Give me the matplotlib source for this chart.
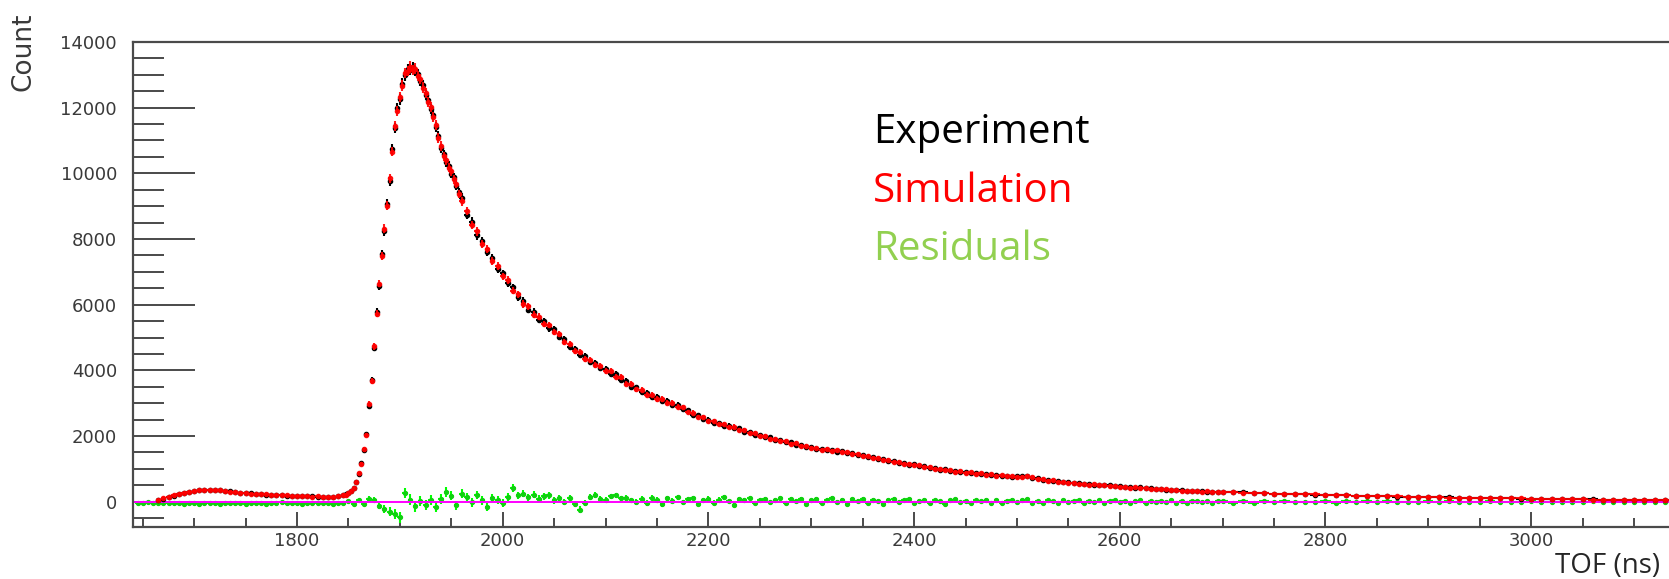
#!/usr/bin/env python3
"""TOF spectrum: experiment vs simulation, with residuals (ROOT-style frame)."""

import numpy as np
import matplotlib
matplotlib.use('Agg')
import matplotlib.pyplot as plt
from matplotlib.ticker import MultipleLocator

# counts, four binning segments (start ns, step ns)
SEGMENTS = [(1665, 5.0), (1845, 2.5), (1960, 5.0), (2700, 10.0)]

EXP_A = [55, 95, 145, 185, 240, 262, 310, 322, 358, 352,
         368, 348, 356, 328, 316, 284, 280, 255, 258, 236,
         234, 214, 215, 196, 200, 180, 186, 170, 176, 160,
         166, 150, 156, 142, 154, 168]
EXP_B = [190, 225, 255, 335, 415, 610, 840, 1180, 1580, 2060,
         2930, 3720, 4680, 5780, 6570, 7530, 8230, 9080, 9760, 10740,
         11380, 11990, 12250, 12730, 12980, 13180, 13160, 13230, 13110, 13020,
         12820, 12680, 12390, 12230, 11970, 11790, 11420, 11130, 10760, 10580,
         10350, 10230, 9990, 9880, 9620, 9430]
EXP_C = [9260, 8740, 8530, 8110, 7950, 7590, 7420, 7080, 6950, 6650,
         6530, 6220, 6110, 5850, 5790, 5540, 5490, 5280, 5250, 5010,
         4960, 4720, 4660, 4470, 4440, 4250, 4230, 4060, 4050, 3890,
         3890, 3710, 3680, 3500, 3480, 3330, 3320, 3180, 3190, 3070,
         3070, 2950, 2950, 2810, 2790, 2650, 2640, 2510, 2500, 2400,
         2400, 2310, 2320, 2230, 2230, 2130, 2130, 2040, 2040, 1960,
         1960, 1880, 1890, 1810, 1810, 1740, 1740, 1670, 1680, 1610,
         1620, 1560, 1580, 1520, 1540, 1480, 1490, 1420, 1430, 1360,
         1370, 1300, 1310, 1240, 1250, 1180, 1190, 1120, 1135, 1085,
         1085, 1035, 1035, 975, 985, 935, 945, 895, 912, 868,
         882, 846, 852, 808, 812, 778, 792, 758, 772, 776,
         792, 728, 712, 660, 665, 630, 630, 592, 598, 566,
         568, 538, 538, 512, 516, 494, 497, 478, 478, 448,
         447, 424, 436, 404, 406, 384, 386, 366, 365, 344,
         344, 326, 330, 314, 319, 305, 309, 296]
EXP_D = [298, 281, 282, 266, 263, 241, 238, 227, 228, 216,
         213, 197, 198, 181, 181, 169, 171, 157, 155, 142,
         143, 132, 133, 122, 123, 112, 113, 102, 105, 95,
         98, 87, 88, 77, 80, 69, 71, 61, 63, 54,
         58, 49, 53, 45]

SIM_A = [48, 104, 138, 194, 228, 276, 296, 336, 344, 366,
         354, 362, 342, 340, 304, 296, 270, 265, 246, 244,
         226, 224, 206, 204, 190, 190, 174, 180, 164, 170,
         154, 160, 144, 150, 146, 162]
SIM_B = [195, 218, 265, 325, 430, 590, 865, 1150, 1620, 2040,
         2980, 3680, 4730, 5720, 6640, 7470, 8320, 9010, 9850, 10660,
         11430, 11910, 12330, 12670, 13060, 13120, 13250, 13150, 13190, 12960,
         12880, 12610, 12450, 12170, 12030, 11710, 11480, 11070, 10840, 10520,
         10410, 10170, 10060, 9820, 9690, 9370]
SIM_C = [9150, 8850, 8430, 8230, 7860, 7700, 7340, 7180, 6860, 6750,
         6430, 6320, 6020, 5950, 5690, 5640, 5410, 5380, 5170, 5110,
         4860, 4800, 4580, 4550, 4360, 4330, 4150, 4140, 3970, 3970,
         3810, 3790, 3600, 3580, 3420, 3410, 3260, 3260, 3130, 3130,
         3010, 3010, 2890, 2870, 2730, 2710, 2580, 2570, 2460, 2460,
         2360, 2370, 2280, 2290, 2190, 2190, 2090, 2080, 2000, 2000,
         1920, 1920, 1850, 1850, 1770, 1780, 1700, 1710, 1640, 1650,
         1580, 1600, 1540, 1560, 1500, 1520, 1450, 1460, 1390, 1400,
         1330, 1340, 1270, 1280, 1210, 1220, 1150, 1160, 1105, 1115,
         1055, 1065, 1005, 1005, 955, 965, 915, 925, 888, 892,
         858, 874, 828, 832, 788, 802, 768, 782, 750, 764,
         768, 752, 688, 680, 645, 650, 610, 606, 582, 584,
         552, 552, 522, 528, 504, 506, 483, 490, 462, 462,
         433, 436, 414, 416, 394, 396, 374, 374, 355, 356,
         336, 334, 320, 326, 311, 315, 301, 304]
SIM_D = [292, 289, 274, 274, 257, 249, 232, 233, 222, 224,
         207, 203, 192, 189, 175, 175, 165, 163, 149, 148,
         137, 138, 127, 128, 117, 118, 107, 108, 99, 101,
         92, 93, 82, 83, 74, 75, 65, 67, 57, 60,
         52, 55, 47, 51]

# residuals: 5 ns bins from 1645, then 10 ns bins from 2700
RES_SEGMENTS = [(1645, 5.0), (2700, 10.0)]
RES_A = [-30, -40, -20, -35, -25, -45, -30, -50, -40, -55,
         -45, -30, -60, -35, -50, -25, -55, -40, -30, -50,
         -35, -55, -25, -45, -40, -60, -30, -45, -20, -50,
         -40, -30, -55, -35, -45, -25, -50, -30, -60, -40,
         -40, 20, -60, 40, -70, 90, 60, -120, -220, -300,
         -380, -480, 260, 60, -140, 20, -90, 60, -160, 90,
         290, 180, -110, 240, 140, -20, 200, 40, -160, 110,
         40, -50, 150, 420, 190, 250, 140, 210, 90, 160,
         200, 40, 110, -10, 100, -60, -240, -40, 150, 200,
         90, 60, 160, 190, 100, 110, 40, -10,
         80, -40, 120, 60, -80, 100, 30, 140, -20, 70, 110, -60, 40, 90,
         -30, 60, 130, 20, -90, 80, 40, 110, -40, 60,
         90, -20, 50, 100, -50, 70, 20, 90, -60, 40,
         80, -30, 60, 110, -10, 50, -80, 70, 30, 90,
         -40, 60, 20, -70, 50, 80, -20, 40, 70, -50,
         30, 60, -30, 50, 20, -60, 40, 70, -20, 30,
         -40, 50, 10, 60, -30, 40, -50, 30, 60, -20,
         40, 70, -30, 20, -40, 50, 10, -30, 40, -20,
         30, 50, -40, 20, -10, 40, -30, 20, 50, -20,
         30, -40, 10, 40, -30, 20, -20, 30, -10, 40,
         -30, 20, -40, 10, 30, -20, 20, -30, 10]
RES_B = [20, -25, 15, -30, 10, -15, 25, -20, 5, -10,
         20, -25, 15, -5, 10, -20, 15, -10, 5, -15,
         10, -5, 15, -10, 5, -15, 10, -5, 5, -10,
         10, -5, 0, -10, 5, -5, 10, -5, 0, -10,
         5, -5, 5, -5]

TICK_GREY = '#3a3a3a'
FRAME_GREY = '#4a4a4a'


def binned(segments, parts):
    xs, half = [], []
    for (start, step), vals in zip(segments, parts):
        n = len(vals)
        xs.append(start + step * np.arange(n))
        half.append(np.full(n, step / 2))
    y = np.concatenate([np.asarray(v, float) for v in parts])
    return np.concatenate(xs), np.concatenate(half), y


def main():
    parts_e = [EXP_A, EXP_B, EXP_C, EXP_D]
    parts_s = [SIM_A, SIM_B, SIM_C, SIM_D]
    x_e, hw_e, y_e = binned(SEGMENTS, parts_e)
    x_s, hw_s, y_s = binned(SEGMENTS, parts_s)
    x_r, hw_r, y_r = binned(RES_SEGMENTS, [RES_A, RES_B])
    # residual error: both histograms' statistical errors combined
    err_r = np.sqrt(2 * np.interp(x_r, x_e, y_e, left=40))

    fig = plt.figure(figsize=(16.69, 5.79), dpi=100)
    ax = fig.add_axes([0.0797, 0.0898, 0.9203, 0.8377])

    ax.errorbar(x_r, y_r, xerr=hw_r, yerr=err_r, fmt='o', ms=2.8,
                color='#10d010', ecolor='#00ff00', elinewidth=1.5,
                capsize=0, zorder=2)
    ax.axhline(0, color='#ff00ff', lw=1.4, zorder=2.5)
    ax.errorbar(x_e, y_e, xerr=hw_e, yerr=1.4 * np.sqrt(y_e), fmt='o',
                ms=3.0, color='black', elinewidth=1.5, capsize=0, zorder=3)
    ax.errorbar(x_s, y_s, xerr=hw_s, yerr=1.4 * np.sqrt(y_s), fmt='o',
                ms=3.0, color='#ff0000', elinewidth=1.5, capsize=0,
                alpha=0.9, zorder=4)

    ax.set_xlim(1640.5, 3134)
    ax.set_ylim(-770, 14000)

    ax.xaxis.set_major_locator(MultipleLocator(200))
    ax.xaxis.set_minor_locator(MultipleLocator(50))
    ax.yaxis.set_major_locator(MultipleLocator(2000))
    ax.yaxis.set_minor_locator(MultipleLocator(500))

    ax.tick_params(axis='y', which='major', direction='in', length=44.6,
                   width=1.4, pad=11.5, labelsize=13, color=FRAME_GREY,
                   labelcolor=TICK_GREY)
    ax.tick_params(axis='y', which='minor', direction='in', length=22.3,
                   width=1.4, color=FRAME_GREY)
    ax.tick_params(axis='x', which='major', direction='in', length=10.8,
                   width=1.4, pad=3.6, labelsize=13, color=FRAME_GREY,
                   labelcolor=TICK_GREY)
    ax.tick_params(axis='x', which='minor', direction='in', length=6.2,
                   width=1.4, color=FRAME_GREY)

    for side in ('left', 'bottom', 'top'):
        ax.spines[side].set_color(FRAME_GREY)
        ax.spines[side].set_linewidth(1.6)
    ax.spines['right'].set_visible(False)

    fig.text(24 / 1669, 1 - 51.5 / 579, 'Count', rotation=90,
             ha='center', va='center', fontsize=19, color=TICK_GREY)
    fig.text(1660 / 1669, 1 - 573 / 579, 'TOF (ns)', ha='right',
             va='baseline', fontsize=20, family='Open Sans', color='#262626')

    labels = [('Experiment', 'black', 143),
              ('Simulation', '#ff0000', 202),
              ('Residuals', '#92d050', 260)]
    for text, col, base in labels:
        fig.text(873 / 1669, 1 - base / 579, text, ha='left',
                 va='baseline', fontsize=29, family='Open Sans', color=col)

    fig.savefig('out.png', dpi=100)


if __name__ == '__main__':
    main()
